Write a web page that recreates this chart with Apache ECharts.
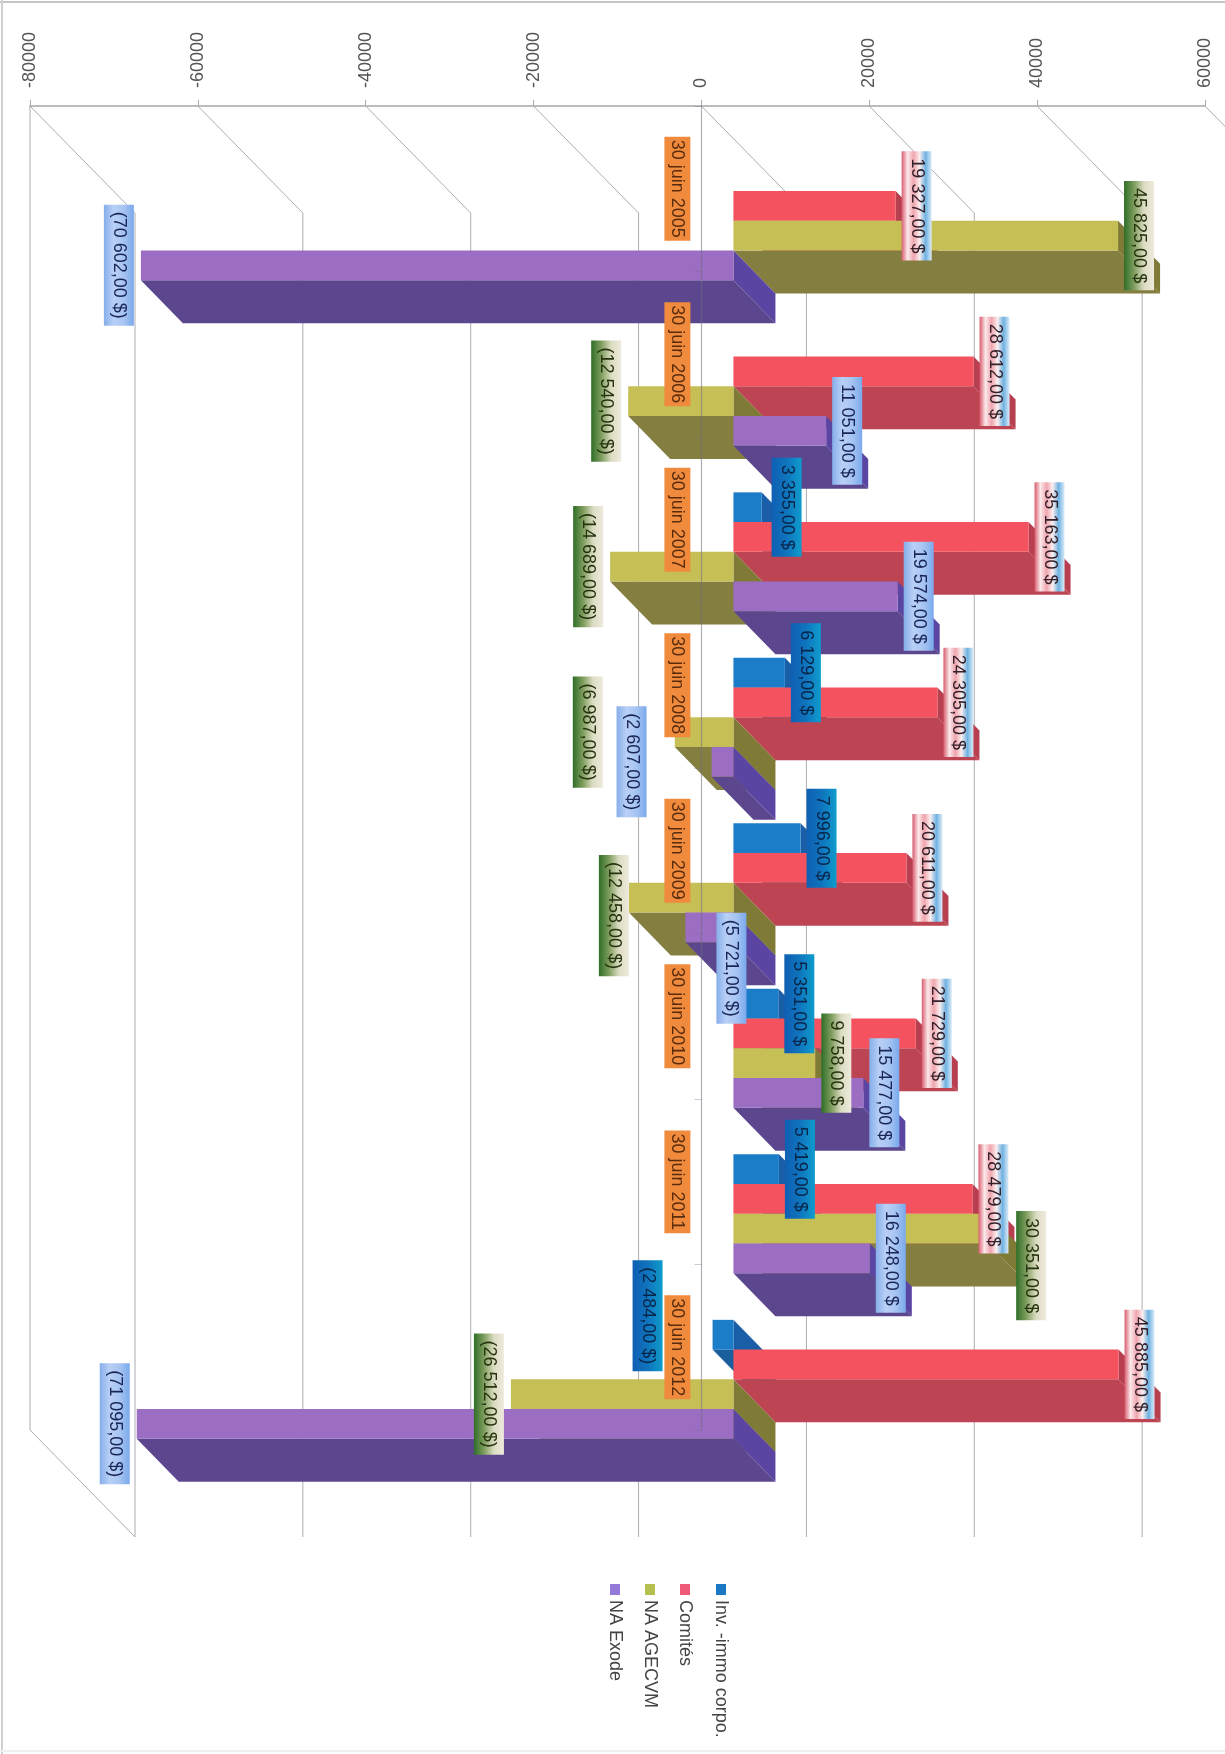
<!DOCTYPE html>
<html>
<head>
<meta charset="utf-8">
<style>html,body{margin:0;padding:0;background:#fff}#c{width:1225px;height:1754px}</style>
<script src="https://cdn.jsdelivr.net/npm/echarts@6/dist/echarts.min.js"></script>
</head>
<body>
<div id="c"></div>
<script>
var categories = ['30 juin 2005','30 juin 2006','30 juin 2007','30 juin 2008','30 juin 2009','30 juin 2010','30 juin 2011','30 juin 2012'];
var seriesNames = ['Inv. -immo corpo.','Comités','NA AGECVM','NA Exode'];
var invImmo = [null, null, 3355, 6129, 7996, 5351, 5419, -2484];
var comites = [19327, 28612, 35163, 24305, 20611, 21729, 28479, 45885];
var naAgecvm = [45825, -12540, -14689, -6987, -12458, 9758, 30351, -26512];
var naExode = [-70602, 11051, 19574, -2607, -5721, 15477, 16248, -71095];
var axisTicks = [-80000,-60000,-40000,-20000,0,20000,40000,60000];

var seriesValues = [invImmo, comites, naAgecvm, naExode];
var FONT = '"Liberation Sans", Arial, sans-serif';
var faces = [
  {light:'#1b7cc8', dark:'#1a5e9e', cap:'#1a5ea8', text:'#08264a', stops:['#0f5fb2','#0f74be','#0f9ccc']},
  {light:'#f4525e', dark:'#bd4553', cap:'#b83f50', text:'#33202a', stops:['#d85c6e','#fbe9ea','#f0a5ae','#fbeeee','#6fb2e2','#dcecf8']},
  {light:'#c5bf56', dark:'#857e41', cap:'#7f7a35', text:'#26330f', stops:['#2f6e28','#7d9c5c','#dcdcc2','#eeeade']},
  {light:'#9b6ec4', dark:'#5c478f', cap:'#5b45a2', text:'#1a2658', stops:['#86aeea','#b9d0f6','#a6c4f2','#7aa9ec']}
];
var DEPTH_X = 42, DEPTH_Y = 43, PLANE = 32, BAR_H = 29.7;
// labels that were hand-moved in the original: [series, category] -> extra shift
var labelShift = {
  '0:2':[4,0], '0:7':[-43,-19],
  '2:3':[-65,0], '2:4':[7,18], '2:6':[22,37],
  '3:3':[-58,0], '3:4':[68,41]
};

var measure = document.createElement('canvas').getContext('2d');
measure.font = '18px ' + FONT;
function money(v){
  var s = String(Math.abs(v)).replace(/\B(?=(\d{3})+$)/g,' ') + ',00';
  return v < 0 ? '(' + s + ' $)' : s + ' $';
}
function poly(points, fill){
  return {type:'polygon', shape:{points:points}, style:{fill:fill}};
}
function barRenderer(si){
  return function(params, api){
    var c = api.value(1), end = api.coord([api.value(0), c]), zero = api.coord([0, c]);
    var y0 = end[1] + PLANE + (si - 2) * BAR_H, y1 = y0 + BAR_H;
    var a = Math.min(end[0], zero[0]) + PLANE, b = Math.max(end[0], zero[0]) + PLANE;
    var f = faces[si];
    return {type:'group', children:[
      poly([[b,y0],[b+DEPTH_X,y0+DEPTH_Y],[b+DEPTH_X,y1+DEPTH_Y],[b,y1]], f.cap),
      poly([[a,y1],[b,y1],[b+DEPTH_X,y1+DEPTH_Y],[a+DEPTH_X,y1+DEPTH_Y]], f.dark),
      poly([[a,y0],[b,y0],[b,y1],[a,y1]], f.light)
    ]};
  };
}
function labelRenderer(si){
  return function(params, api){
    var v = api.value(0), c = api.value(1), end = api.coord([v, c]);
    var s = labelShift[si + ':' + c] || [0,0];
    var txt = money(v);
    var len = measure.measureText(txt).width + 14, w = 30;
    var cx = end[0] + PLANE + (v < 0 ? -22 : 21) + s[0];
    var cy = end[1] + PLANE + (si - 1.5) * BAR_H + s[1];
    var f = faces[si];
    var stops = f.stops.map(function(col,i){ return {offset:i/(f.stops.length-1), color:col}; });
    return {type:'group', children:[
      {type:'rect', shape:{x:cx-w/2, y:cy-len/2, width:w, height:len},
       style:{fill:{type:'linear', x:0, y:0, x2:1, y2:0, colorStops:stops}}},
      {type:'text', x:cx, y:cy, rotation:-Math.PI/2,
       style:{text:txt, fontSize:18, fontFamily:FONT, fill:f.text, align:'center', verticalAlign:'middle'}}
    ]};
  };
}
function wallRenderer(params, api){
  var t = api.value(0), sys = params.coordSys, x = api.coord([t, 0])[0];
  var top = sys.y, bottom = sys.y + sys.height, dx = 105, dy = 107;
  var style = {stroke:'#adadb2', lineWidth:1, fill:null};
  var kids = [
    {type:'polyline', shape:{points:[[x,top],[x+dx,top+dy],[x+dx,bottom+dy]]}, style:style}
  ];
  if (t === axisTicks[0]) {
    kids.push({type:'polyline', shape:{points:[[x,top],[x,bottom],[x+dx,bottom+dy]]}, style:style});
  }
  return {type:'group', children:kids};
}

var series = [{
  type:'custom', name:'walls', z:1, silent:true, clip:false, renderItem:wallRenderer,
  data:axisTicks.map(function(t){ return [t]; }), encode:{x:0}
}];
seriesValues.forEach(function(vals, si){
  var data = [];
  vals.forEach(function(v,i){ if (v !== null) data.push([v,i]); });
  series.push({type:'custom', name:seriesNames[si], z:2, clip:false, renderItem:barRenderer(si), data:data, encode:{x:0,y:1}});
});
seriesValues.forEach(function(vals, si){
  var data = [];
  vals.forEach(function(v,i){ if (v !== null) data.push([v,i]); });
  series.push({type:'custom', name:seriesNames[si] + ' labels', z:5, clip:false, renderItem:labelRenderer(si), data:data, encode:{x:0,y:1}});
});

var legendGraphics = [
  {type:'line', shape:{x1:0,y1:2,x2:1225,y2:2}, style:{stroke:'#c4c4c4', lineWidth:2}},
  {type:'line', shape:{x1:2,y1:0,x2:2,y2:1754}, style:{stroke:'#cfcfcf', lineWidth:2}},
  {type:'line', shape:{x1:0,y1:1751,x2:1225,y2:1751}, style:{stroke:'#efefef', lineWidth:2}}
];
seriesNames.forEach(function(name,i){
  var cx = [721,685,650,615][i];
  legendGraphics.push({type:'rect', x:cx-5, y:1584, shape:{x:0,y:0,width:10,height:11}, style:{fill:['#1b78c4','#ef5a78','#b5c04e','#9579d8'][i]}});
  legendGraphics.push({type:'text', x:cx, y:1600, rotation:-Math.PI/2,
    style:{text:name, fontSize:18, fontFamily:FONT, fill:'#444', align:'left', verticalAlign:'middle'}});
});

var chart = echarts.init(document.getElementById('c'), null, {renderer:'canvas'});
chart.setOption({
  animation:false,
  backgroundColor:'#fff',
  grid:{left:30, top:106, width:1175, height:1324, containLabel:false, outerBoundsMode:'none'},
  xAxis:{type:'value', position:'top', min:-80000, max:60000, interval:20000,
    axisLine:{show:true, onZero:false, lineStyle:{color:'#bcbcbc', width:2}},
    axisTick:{show:true, length:6, lineStyle:{color:'#aaa'}},
    splitLine:{show:false},
    axisLabel:{rotate:-90, margin:18, fontSize:18, fontFamily:FONT, color:'#555', hideOverlap:false, formatter:function(v){ return String(v); }}},
  yAxis:{type:'category', inverse:true, data:categories, z:3, offset:-671.4,
    axisLine:{show:true, onZero:false, lineStyle:{color:'rgba(110,110,125,0.55)', width:1.2}},
    axisTick:{show:true, length:7, alignWithLabel:false, lineStyle:{color:'rgba(110,110,125,0.35)'}},
    splitLine:{show:false},
    axisLabel:{rotate:-90, margin:11, fontSize:18, fontFamily:FONT, color:'#5a2c0c', backgroundColor:'#f08b3e', padding:[3,3], lineHeight:20, interval:0, hideOverlap:false}},
  graphic:legendGraphics,
  series:series
});
</script>
</body>
</html>
